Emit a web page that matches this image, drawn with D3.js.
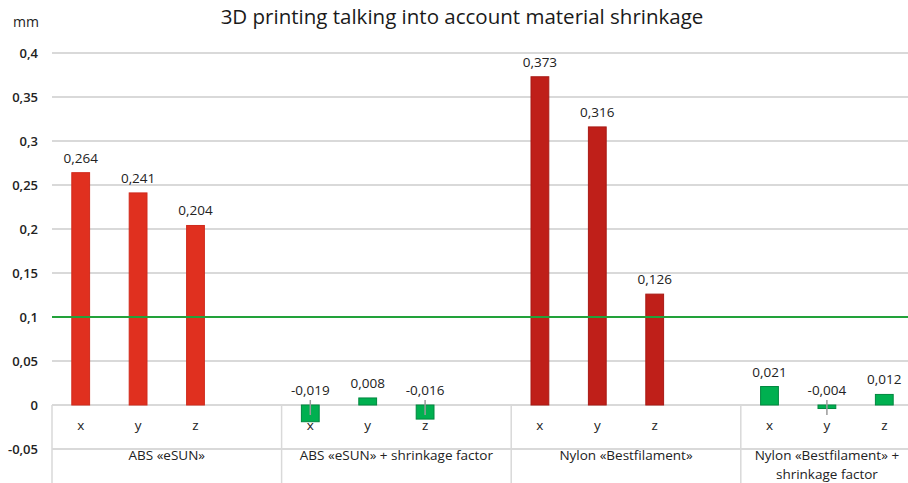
<!DOCTYPE html>
<html>
<head>
<meta charset="utf-8">
<script src="https://cdn.jsdelivr.net/npm/d3@7"></script>
<style>
  html, body { margin: 0; padding: 0; background: #fff; }
  svg { display: block; font-family: "Open Sans", "DejaVu Sans", sans-serif; }
</style>
</head>
<body>
<svg id="chart" width="908" height="483"></svg>
<script>
// Shrinkage deviations (mm) per printing axis for each material setup
const groups = [
  ["ABS «eSUN»"],
  ["ABS «eSUN» + shrinkage factor"],
  ["Nylon «Bestfilament»"],
  ["Nylon «Bestfilament» +", "shrinkage factor"]
];
const axesNames = ["x", "y", "z"];
const absESun = [0.264, 0.241, 0.204];
const absESunFactor = [-0.019, 0.008, -0.016];
const nylonBest = [0.373, 0.316, 0.126];
const nylonBestFactor = [0.021, -0.004, 0.012];
const seriesValues = [absESun, absESunFactor, nylonBest, nylonBestFactor];
const yTicks = [-0.05, 0, 0.05, 0.1, 0.15, 0.2, 0.25, 0.3, 0.35, 0.4];
const toleranceLine = 0.1;

const barColors = ["#E0301F", "#00B050", "#BF1F19", "#00B050"];
const barStroke = ["#D02A1C", "#00873F", "#A81A15", "#00873F"];

const svg = d3.select("#chart");
const left = 52, right = 913;
const y = d3.scaleLinear().domain([-0.05, 0.4]).range([449, 53]);

// one slot per axis, with an empty spacer slot between material groups
const slots = [];
groups.forEach((g, gi) => {
  axesNames.forEach((a, ai) => slots.push({ id: gi + "-" + a, g: gi, axis: a, v: seriesValues[gi][ai] }));
  if (gi < groups.length - 1) slots.push({ id: gi + "-gap", g: gi, axis: "", v: null });
});
const pad = 0.69;
const x = d3.scaleBand().domain(slots.map(d => d.id)).range([left, right])
  .paddingInner(pad).paddingOuter(pad / 2);
const step = x.step();

const locale = d3.formatLocale({ decimal: ",", thousands: " ", grouping: [3], currency: ["", ""], minus: "-" });
const tickFmt = locale.format(".2~f");
const valFmt = locale.format(".3f");

// title and unit
svg.append("text").attr("x", 462).attr("y", 24).attr("text-anchor", "middle")
  .attr("font-size", 20.5).attr("fill", "#1a1a1a").text("3D printing talking into account material shrinkage");
svg.append("text").attr("x", 13).attr("y", 27).attr("font-size", 14).attr("fill", "#222").text("mm");

// horizontal gridlines
const yAxis = d3.axisLeft(y).tickValues(yTicks).tickFormat(tickFmt).tickSize(0).tickPadding(14);
const ya = svg.append("g").attr("transform", `translate(${left},0)`).call(yAxis);
ya.select(".domain").remove();
ya.selectAll("text").attr("font-size", 13).attr("fill", "#222").attr("font-family", "Open Sans, sans-serif")
  .attr("font-weight", 600);
svg.append("g").selectAll("line").data(yTicks).join("line")
  .attr("x1", left).attr("x2", right)
  .attr("y1", d => y(d)).attr("y2", d => y(d))
  .attr("stroke", "#d9d9d9").attr("stroke-width", 2);

// category axis frame: group separators down through both label tiers
const boundaries = [left];
groups.forEach((g, gi) => {
  if (gi > 0) boundaries.push(x(gi + "-x") - (step * pad) / 2);
});
svg.append("g").selectAll("line").data(boundaries).join("line")
  .attr("x1", d => d).attr("x2", d => d).attr("y1", y(0)).attr("y2", 483)
  .attr("stroke", "#d9d9d9").attr("stroke-width", 1.5);

// axis labels x / y / z
const xa = d3.axisBottom(x).tickValues(slots.filter(d => d.axis).map(d => d.id))
  .tickFormat(id => id.split("-")[1]).tickSize(0).tickPadding(15);
const xg = svg.append("g").attr("transform", `translate(0,${y(0)})`).call(xa);
xg.select(".domain").remove();
xg.selectAll("text").attr("font-size", 13.5).attr("fill", "#222").attr("font-family", "Open Sans, sans-serif");

// group labels
const ends = boundaries.concat([right]);
groups.forEach((lines, gi) => {
  const cx = (ends[gi] + ends[gi + 1]) / 2;
  const t = svg.append("text").attr("text-anchor", "middle").attr("font-size", 13.5).attr("fill", "#222");
  lines.forEach((ln, li) => t.append("tspan").attr("x", cx).attr("y", 460 + li * 19).text(ln));
});

// bars
const bars = slots.filter(d => d.v !== null);
svg.append("g").selectAll("rect").data(bars).join("rect")
  .attr("x", d => x(d.id)).attr("width", x.bandwidth())
  .attr("y", d => y(Math.max(0, d.v)))
  .attr("height", d => Math.abs(y(d.v) - y(0)))
  .attr("fill", d => barColors[d.g]).attr("stroke", d => barStroke[d.g]).attr("stroke-width", 1);

// small leader ticks on the negative bars
svg.append("g").selectAll("line").data(bars.filter(d => d.v < 0)).join("line")
  .attr("x1", d => x(d.id) + x.bandwidth() / 2).attr("x2", d => x(d.id) + x.bandwidth() / 2)
  .attr("y1", y(0) - 5).attr("y2", y(0) + 10)
  .attr("stroke", "#9a9a9a").attr("stroke-width", 1.5);

// 0.1 mm tolerance line
svg.append("line").attr("x1", left).attr("x2", right)
  .attr("y1", y(toleranceLine)).attr("y2", y(toleranceLine))
  .attr("stroke", "#22A23A").attr("stroke-width", 2);

// value labels
svg.append("g").selectAll("text").data(bars).join("text")
  .attr("x", d => x(d.id) + x.bandwidth() / 2)
  .attr("y", d => y(Math.max(0, d.v)) - (d.v < 0 ? 10 : 10))
  .attr("text-anchor", "middle").attr("font-size", 13.5).attr("fill", "#222")
  .text(d => valFmt(d.v));
</script>
</body>
</html>
